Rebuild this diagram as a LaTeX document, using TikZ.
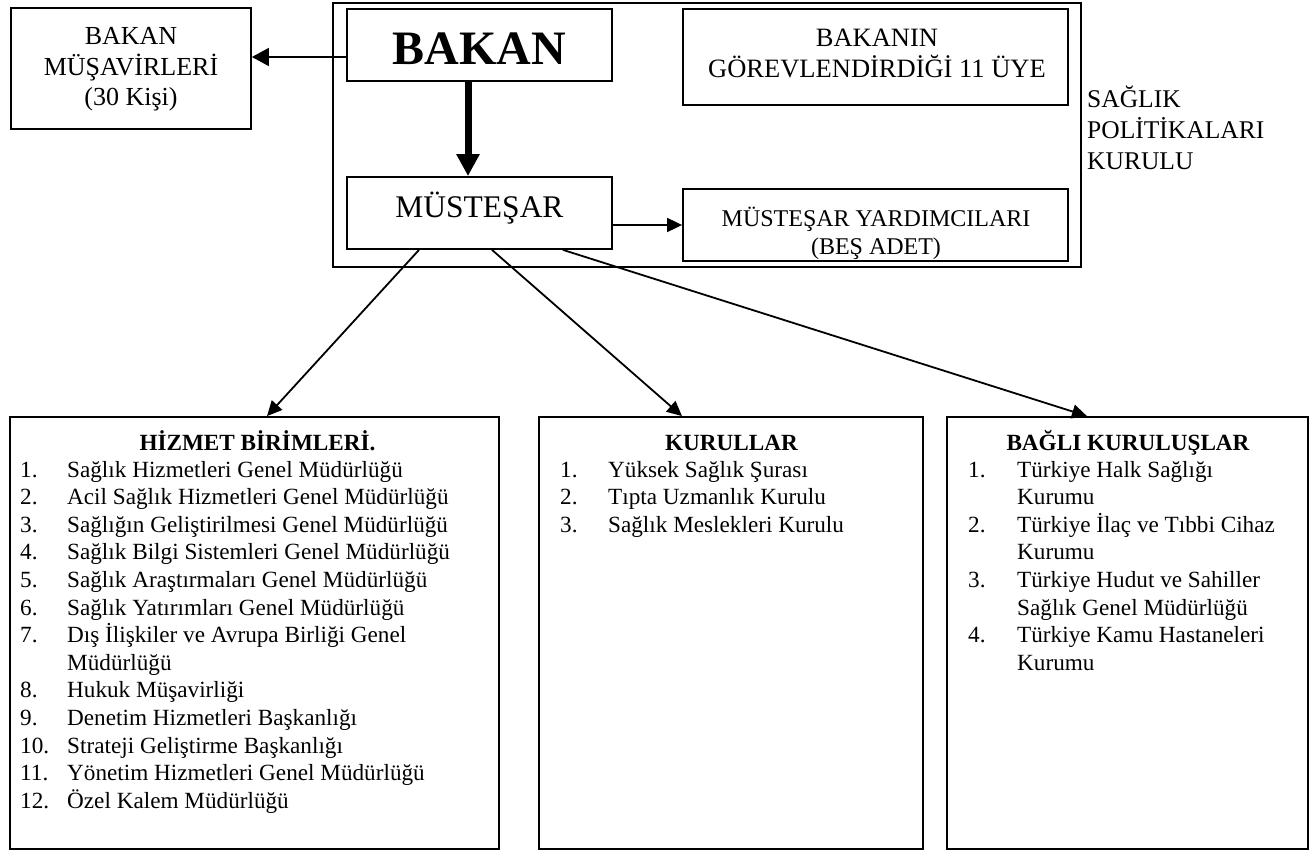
\documentclass[tikz,border=0pt]{standalone}
\usepackage{fontspec}
\setmainfont{Liberation Serif}
\usetikzlibrary{arrows.meta}

\newcommand{\satirlar}[1]{\begin{tabular}[t]{@{}c@{}}#1\end{tabular}}
\newcommand{\liste}[2]{\begin{tabular}[t]{@{}p{#1}@{}l@{}}#2\end{tabular}}
\newcommand{\listefont}{\fontsize{23.2}{27.6}\selectfont}

\tikzset{
  kutu/.style={draw, line width=1.8pt, inner sep=0pt},
  yazi/.style={inner sep=0pt, anchor=base},
  ok/.style={line width=1.8pt, -{Triangle[length=15pt,width=14pt]}},
}

\begin{document}
\begin{tikzpicture}[x=1pt, y=-1pt]
        \useasboundingbox (0,0) rectangle (1313,850);

        % ust kisim
        \node[kutu, line width=2.2pt, minimum width=748pt, minimum height=264pt] (kurul) at (707,135) {};
        \node[kutu, minimum width=240pt, minimum height=121pt] (musavir) at (131,68.5) {};
        \node[kutu, minimum width=265pt, minimum height=72pt] (bakan) at (479.5,45) {};
        \node[kutu, minimum width=265pt, minimum height=72pt] (mustesar) at (479.5,213) {};
        \node[kutu, minimum width=385pt, minimum height=96pt] (uye) at (875.5,57) {};
        \node[kutu, minimum width=385pt, minimum height=72pt] (yardimci) at (875.5,225) {};

        \node[yazi] (musavirad) at (131,45) {\fontsize{26}{30}\selectfont\satirlar{BAKAN\\MÜŞAVİRLERİ\\(30 Kişi)}};
        \node[yazi] (bakanad) at (479.5,65) {\fontsize{48}{50}\selectfont\bfseries BAKAN};
        \node[yazi] (mustesarad) at (479.5,218) {\fontsize{31.5}{36}\selectfont MÜSTEŞAR};
        \node[yazi] (uyead) at (877,47) {\fontsize{26.5}{28}\selectfont\satirlar{BAKANIN\\GÖREVLENDİRDİĞİ 11 ÜYE}};
        \node[yazi] (yardimciad) at (876,227) {\fontsize{24}{28}\selectfont\satirlar{MÜSTEŞAR YARDIMCILARI\\(BEŞ ADET)}};
        \node[yazi, anchor=base west] (kurulad) at (1087,108) {\fontsize{25.5}{31}\selectfont\begin{tabular}[t]{@{}l@{}}SAĞLIK\\POLİTİKALARI\\KURULU\end{tabular}};

        \draw[ok, -{Triangle[length=17pt,width=18pt]}] ([yshift=-12pt]bakan.west) -- ([yshift=-12pt]bakan.west -| musavir.east);
        \draw[line width=7pt, -{Triangle[length=22pt,width=22pt]}] ([xshift=-11.5pt]bakan.south) -- ([xshift=-11.5pt]mustesar.north);
        \draw[ok] (yardimci.west -| mustesar.east) -- (yardimci.west);

        % alt kutular
        \node[kutu, minimum width=489pt, minimum height=432pt] (hizmet) at (254.5,633) {};
        \node[kutu, minimum width=384pt, minimum height=432pt] (kurullar) at (731,633) {};
        \node[kutu, minimum width=361pt, minimum height=432pt] (bagli) at (1127.5,633) {};

        \node[yazi] (hizmetbaslik) at (257.5,450) {\listefont\bfseries HİZMET BİRİMLERİ.};
        \node[yazi] (kurullarbaslik) at (731.5,450) {\listefont\bfseries KURULLAR};
        \node[yazi] (baglibaslik) at (1128,450) {\listefont\bfseries BAĞLI KURULUŞLAR};

        \node[yazi, anchor=base west] (hizmetliste) at (20,477) {\listefont\liste{47pt}{%
            1. & Sağlık Hizmetleri Genel Müdürlüğü\\
            2. & Acil Sağlık Hizmetleri Genel Müdürlüğü\\
            3. & Sağlığın Geliştirilmesi Genel Müdürlüğü\\
            4. & Sağlık Bilgi Sistemleri Genel Müdürlüğü\\
            5. & Sağlık Araştırmaları Genel Müdürlüğü\\
            6. & Sağlık Yatırımları Genel Müdürlüğü\\
            7. & Dış İlişkiler ve Avrupa Birliği Genel\\
               & Müdürlüğü\\
            8. & Hukuk Müşavirliği\\
            9. & Denetim Hizmetleri Başkanlığı\\
            10. & Strateji Geliştirme Başkanlığı\\
            11. & Yönetim Hizmetleri Genel Müdürlüğü\\
            12. & Özel Kalem Müdürlüğü}};
        \node[yazi, anchor=base west] (kurullarliste) at (560,477) {\listefont\liste{48pt}{%
            1. & Yüksek Sağlık Şurası\\
            2. & Tıpta Uzmanlık Kurulu\\
            3. & Sağlık Meslekleri Kurulu}};
        \node[yazi, anchor=base west] (bagliliste) at (968,477) {\listefont\liste{49pt}{%
            1. & Türkiye Halk Sağlığı\\
               & Kurumu\\
            2. & Türkiye İlaç ve Tıbbi Cihaz\\
               & Kurumu\\
            3. & Türkiye Hudut ve Sahiller\\
               & Sağlık Genel Müdürlüğü\\
            4. & Türkiye Kamu Hastaneleri\\
               & Kurumu}};

        \draw[ok] ([xshift=-60.5pt]mustesar.south) -- ([xshift=12.5pt]hizmet.north);
        \draw[ok] ([xshift=12.5pt]mustesar.south) -- ([xshift=-49pt]kurullar.north);
        \draw[ok] ([xshift=83.5pt]mustesar.south) -- ([xshift=-40.5pt]bagli.north);

\end{tikzpicture}
\end{document}
